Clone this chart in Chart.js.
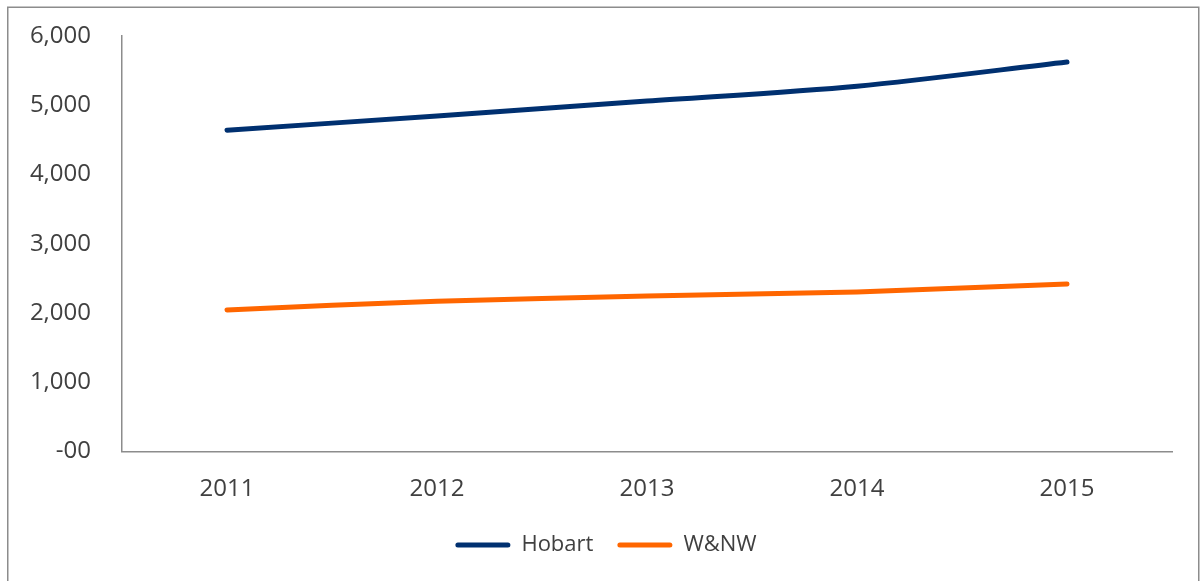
<!DOCTYPE html>
<html>
<head>
<meta charset="utf-8">
<script src="https://cdn.jsdelivr.net/npm/chart.js@4"></script>
<style>
html,body{margin:0;padding:0;background:#fff;}
#wrap{position:absolute;left:0;top:0;width:1202px;height:581px;}
</style>
</head>
<body>
<div id="wrap"><canvas id="c" width="1202" height="581"></canvas></div>
<script>
const categories = ['2011', '2012', '2013', '2014', '2015'];
const hobart = [4640, 4845, 5060, 5275, 5625];
const wnw = [2045, 2170, 2245, 2305, 2420];
const yTickLabels = ['-00', '1,000', '2,000', '3,000', '4,000', '5,000', '6,000'];

const FONT = '"Open Sans", sans-serif';

const borderPlugin = {
  id: 'outerBorder',
  afterLayout(chart) {
    // shift the centred legend row slightly right, as in the reference
    chart.legend.left += 40;
  },
  beforeDraw(chart) {
    const ctx = chart.ctx;
    ctx.save();
    ctx.fillStyle = '#fff';
    ctx.fillRect(0, 0, chart.width, chart.height);
    ctx.strokeStyle = '#8c8c8c';
    ctx.lineWidth = 1.5;
    ctx.strokeRect(7.75, 7.25, 1191, 600);
    ctx.restore();
  }
};

new Chart(document.getElementById('c'), {
  type: 'line',
  data: {
    labels: categories,
    datasets: [
      {label: 'Hobart', data: hobart, borderColor: '#003070', backgroundColor: '#003070',
       borderWidth: 5, pointRadius: 0, tension: 0.3, borderCapStyle: 'round', fill: false},
      {label: 'W&NW', data: wnw, borderColor: '#ff6600', backgroundColor: '#ff6600',
       borderWidth: 5, pointRadius: 0, tension: 0.3, borderCapStyle: 'round', fill: false}
    ]
  },
  options: {
    responsive: false,
    animation: false,
    layout: {padding: {top: 36, right: 30, bottom: 15, left: 0}},
    plugins: {
      tooltip: {enabled: false},
      legend: {
        position: 'bottom',
        labels: {
          font: {family: FONT, size: 22},
          color: '#404040',
          boxWidth: 55,
          boxHeight: 5,
          useBorderRadius: true,
          borderRadius: 2.5,
          padding: 24,
          generateLabels(chart) {
            return chart.data.datasets.map((d, i) => ({
              text: d.label, fillStyle: d.borderColor, strokeStyle: d.borderColor,
              lineWidth: 0, datasetIndex: i, borderRadius: 2.5, fontColor: '#404040'
            }));
          }
        }
      }
    },
    scales: {
      x: {
        offset: true,
        grid: {display: false, drawTicks: false},
        border: {display: true, color: '#8c8c8c', width: 1.5},
        ticks: {font: {family: FONT, size: 24}, color: '#404040', padding: 23},
        afterFit(scale) { scale.height = 58.5; }
      },
      y: {
        min: 0, max: 6000,
        grid: {display: false, drawTicks: false},
        border: {display: true, color: '#8c8c8c', width: 1.5},
        ticks: {
          stepSize: 1000,
          font: {family: FONT, size: 24}, color: '#404040', padding: 31,
          callback(value) { return yTickLabels[Math.round(value / 1000)]; }
        },
        afterFit(scale) {
          scale.width = 122;
          scale.paddingTop = 13;
          scale.paddingBottom = 13;
        }
      }
    }
  },
  plugins: [borderPlugin]
});
</script>
</body>
</html>
